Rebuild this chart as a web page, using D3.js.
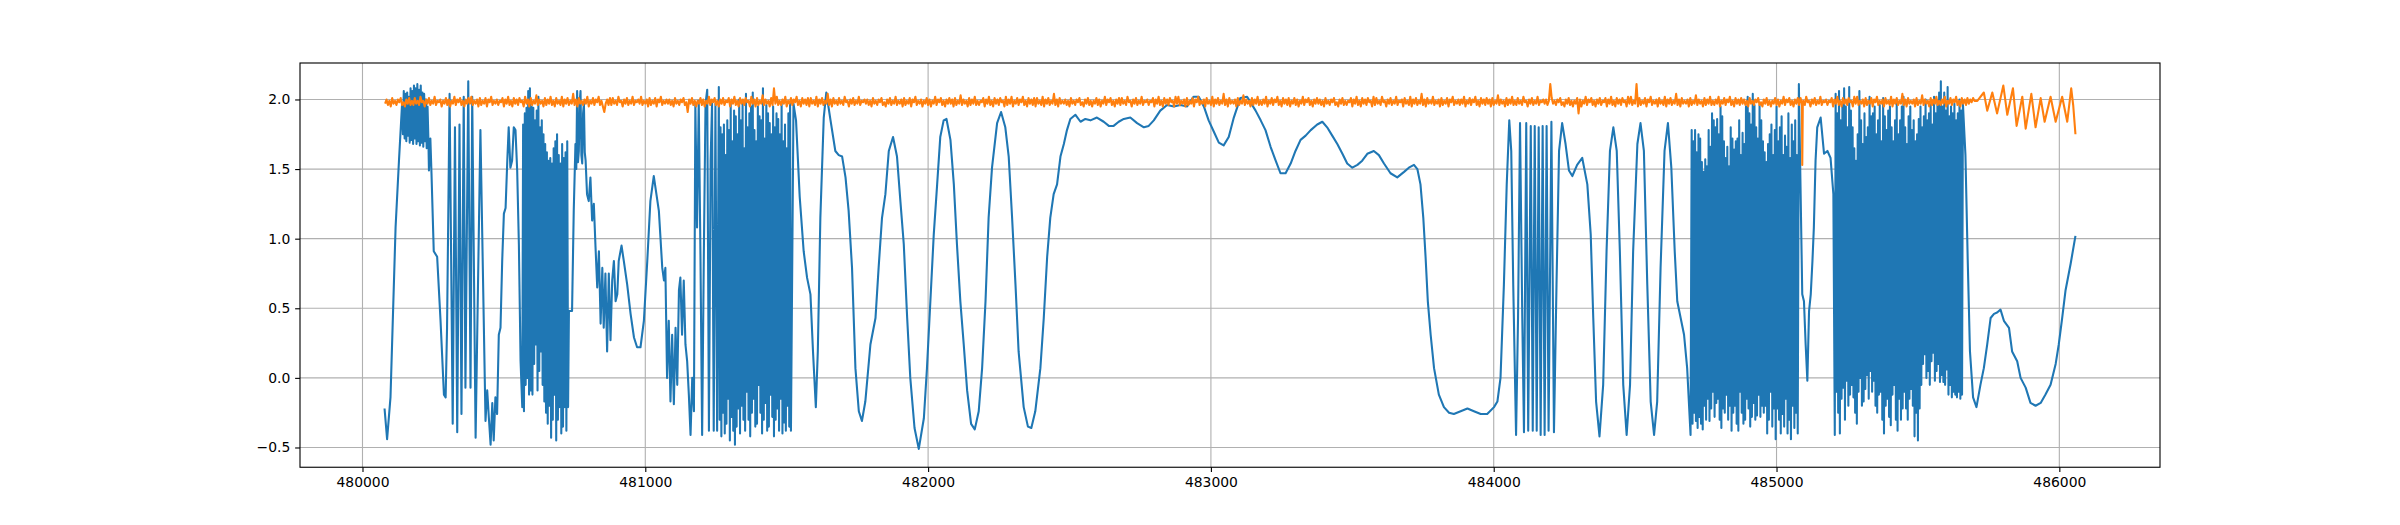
<!DOCTYPE html>
<html>
<head>
<meta charset="utf-8">
<script src="https://cdn.jsdelivr.net/npm/d3@7"></script>
<style>
  body { margin: 0; background: #fff; }
  svg { display: block; }
  .tick text { font-family: "DejaVu Sans", sans-serif; font-size: 13.9px; fill: #000; }
</style>
</head>
<body>
<script>
// data - blue series: slow stretches as [x, y] pairs, fast bursts as values sampled every burstStep
var burstStep = 3;

var blueRise = [[480078,-0.22],[480087,-0.44],[480099,-0.14],[480117,1.08],[480129,1.56],[480140,1.97]];
var crestStart = 480143;
var crestValues = [1.75,2.06,1.72,2.04,1.70,2.05,1.74,2.02,1.69,2.08,1.71,2.06,1.68,2.10,1.72,2.08,
  1.68,2.11,1.70,2.07,1.67,2.10,1.69,2.05,1.66,2.04,1.70,2.00,1.65,1.95,1.72];
var blueFallA = [[480235,1.49],[480240,1.72],[480244,1.47],[480252,0.91],[480264,0.87],[480276,0.41],[480288,-0.12],
  [480294,-0.14],[480299,0.36],[480308,2.04],[480319,-0.33],[480327,1.80],[480335,-0.39],[480343,1.82],[480350,-0.26],
  [480358,2.02],[480364,-0.07],[480374,2.13],[480382,-0.07],[480388,2.02],[480400,-0.43],
  [480417,1.78],[480435,-0.31],[480441,-0.09],[480447,-0.29],[480453,-0.48],[480459,-0.18],[480464,-0.45],
  [480470,-0.14],[480476,-0.26],[480482,0.31],[480488,0.36],[480494,0.84],[480500,1.18],[480506,1.22],[480512,1.56],
  [480517,1.80],[480523,1.51],[480529,1.56],[480535,1.80],[480541,1.78],[480547,1.49],[480553,0.96],[480559,0.12],[480565,-0.21]];
var burstBStart = 480568;
var burstBValues = [1.82,-0.24,1.90,-0.05,1.94,0.00,2.06,-0.12,2.08,-0.09,1.95,-0.12,1.94,0.10,1.85,0.24,1.92,-0.09,2.02,0.05,
  1.80,0.19,1.85,-0.05,1.75,-0.17,1.68,-0.25,1.62,-0.33,1.56,-0.20,1.58,-0.43,1.54,-0.30,1.65,-0.12,1.70,-0.45,
  1.75,-0.30,1.60,-0.21,1.54,-0.40,1.68,-0.35,1.58,-0.21,1.62,-0.38,1.70,-0.21,0.48];
var blueDecay = [[480741,0.48],[480747,1.20],[480753,1.68],[480756,1.50],[480759,2.06],[480762,1.55],[480765,1.63],[480768,1.98],
  [480771,2.06],[480774,1.60],[480777,1.54],[480780,1.90],[480783,1.97],[480786,1.62],
  [480789,1.56],[480794,1.32],[480800,1.27],[480806,1.44],[480812,1.13],[480818,1.25],[480824,0.94],[480830,0.65],
  [480836,0.91],[480842,0.39],[480848,0.79],[480853,0.36],[480859,0.75],[480865,0.19],[480871,0.75],[480877,0.27],
  [480883,0.70],[480889,0.84],[480895,0.55],[480901,0.60],[480906,0.84],[480916,0.95],[480924,0.84],[480936,0.67],
  [480948,0.46],[480960,0.29],[480971,0.22],[480983,0.22],[480995,0.41],[481007,0.84],[481018,1.27],[481030,1.45],
  [481048,1.20],[481060,0.79],[481066,0.70],[481071,0.79],[481077,0.00],[481083,0.41],[481089,-0.17],[481095,0.31],
  [481101,-0.19],[481107,0.36],[481113,-0.05],[481119,0.63],[481124,0.72],[481130,0.31],[481136,0.70],[481142,0.24],
  [481148,0.12],[481154,-0.12],[481160,-0.41],[481166,0.00],[481172,-0.24],
  [481177,1.97],[481183,1.08],[481189,1.99],[481195,0.89],[481201,-0.41],[481207,0.89],[481213,1.97],
  [481219,2.07],[481225,-0.38],[481231,1.56],[481236,1.97],[481242,-0.38],[481248,1.97],[481254,-0.38],[481260,2.09]];
var burstCStart = 481263;
var burstCValues = [-0.30,1.80,-0.42,1.75,-0.25,1.82,-0.40,1.60,-0.33,1.85,-0.15,1.78,-0.45,1.97,-0.28,1.70,-0.38,1.92,-0.48,1.88,
  -0.35,1.75,-0.22,2.00,-0.40,1.85,-0.20,1.97,-0.30,1.65,-0.38,2.04,-0.10,1.80,-0.30,1.90,-0.42,1.95,-0.25,2.05,
  -0.15,1.78,-0.35,1.70,-0.33,1.95,-0.05,1.88,-0.25,1.85,-0.40,2.08,-0.30,1.72,-0.18,1.96,-0.38,1.90,-0.35,1.83,
  -0.12,1.75,-0.28,1.95,-0.42,1.80,-0.30,1.90,-0.22,1.86,-0.38,1.75,-0.15,1.98,-0.40,1.70,-0.32,1.82,-0.38,1.65,
  -0.20,1.90,-0.35,1.97,-0.38];
var blueWaves = [[481524,1.97],[481533,1.85],[481546,1.30],[481560,0.91],[481572,0.72],[481584,0.60],[481593,0.19],[481603,-0.21],
  [481610,0.19],[481619,1.15],[481631,1.87],[481640,2.05],[481655,1.85],[481672,1.63],[481684,1.60],[481696,1.59],
  [481708,1.44],[481719,1.20],[481731,0.79],[481743,0.07],[481755,-0.24],[481766,-0.31],[481778,-0.17],[481796,0.24],
  [481814,0.43],[481825,0.79],[481837,1.15],[481849,1.32],[481861,1.63],[481876,1.73],[481890,1.59],[481902,1.27],
  [481914,0.96],[481926,0.43],[481937,0.00],[481952,-0.36],[481967,-0.51],[481985,-0.29],[481996,0.07],[482008,0.55],
  [482020,1.03],[482032,1.39],[482043,1.73],[482055,1.85],[482065,1.86],[482079,1.71],[482091,1.39],[482102,0.96],
  [482114,0.55],[482126,0.24],[482138,-0.09],[482152,-0.33],[482165,-0.37],[482179,-0.24],[482191,0.07],[482203,0.55],
  [482214,1.15],[482226,1.51],[482244,1.83],[482258,1.91],[482273,1.80],[482285,1.59],[482297,1.15],[482309,0.67],
  [482320,0.19],[482338,-0.21],[482353,-0.35],[482365,-0.36],[482379,-0.24],[482397,0.07],[482409,0.43],[482421,0.87],
  [482432,1.15],[482444,1.32],[482456,1.39],[482468,1.59],[482480,1.68],[482491,1.78],[482503,1.86],[482521,1.89],
  [482539,1.84],[482556,1.86],[482574,1.85],[482597,1.87],[482621,1.84],[482639,1.81],[482656,1.81],[482674,1.84],
  [482692,1.86],[482715,1.87],[482739,1.83],[482763,1.80],[482780,1.81],[482798,1.85],[482821,1.92],[482845,1.96],
  [482869,1.95],[482892,1.96],[482916,1.95],[482939,2.02],[482957,2.02],[482975,1.95],[482992,1.85],[483010,1.77],
  [483028,1.69],[483045,1.67],[483063,1.73],[483081,1.87],[483104,2.01],[483128,2.02],[483158,1.92],[483176,1.85],
  [483193,1.78],[483211,1.66],[483229,1.56],[483246,1.47],[483264,1.47],[483282,1.54],[483299,1.63],[483317,1.71],
  [483335,1.74],[483353,1.78],[483376,1.82],[483394,1.84],[483411,1.80],[483429,1.74],[483447,1.68],[483465,1.61],
  [483482,1.54],[483500,1.51],[483518,1.53],[483535,1.56],[483553,1.61],[483576,1.63],[483594,1.60],[483612,1.54],
  [483635,1.47],[483659,1.44],[483683,1.48],[483700,1.51],[483718,1.53],[483730,1.50],[483741,1.39],[483751,1.15],
  [483759,0.87],[483767,0.55],[483777,0.31],[483789,0.07],[483806,-0.12],[483824,-0.21],[483842,-0.25],[483859,-0.26],
  [483883,-0.24],[483907,-0.22],[483930,-0.24],[483954,-0.26],[483977,-0.26],[484001,-0.21],[484013,-0.17],[484024,0.00],
  [484036,0.67],[484046,1.39],
  [484055,1.85],[484062,1.63],[484069,0.67],[484079,-0.41],[484086,0.43],[484093,1.83],[484101,0.43],
  [484107,-0.39],[484115,1.83],[484122,-0.38],[484131,1.81],[484138,-0.38],[484145,1.81],[484152,-0.38],[484159,1.80],
  [484166,-0.41],[484173,1.81],[484180,-0.41],[484187,1.81],[484194,-0.38],[484204,1.84],[484213,-0.39],
  [484222,0.67],[484231,1.63],[484242,1.83],[484254,1.68],[484266,1.49],[484278,1.45],[484295,1.53],
  [484313,1.58],[484331,1.39],[484343,1.03],[484352,0.43],[484362,-0.17],[484374,-0.42],[484387,-0.05],[484399,0.91],
  [484411,1.63],[484423,1.80],[484435,1.63],[484446,0.91],[484458,-0.05],[484470,-0.41],[484482,-0.05],[484493,0.91],
  [484508,1.68],[484519,1.83],[484531,1.63],[484543,0.67],[484555,-0.17],[484567,-0.41],[484578,-0.17],[484590,0.79],
  [484604,1.63],[484616,1.83],[484628,1.51],[484640,0.91],[484649,0.55],[484661,0.43],[484673,0.31],[484684,0.07],[484696,-0.41]];
var burstEStart = 484700;
var burstEValues = [1.78,-0.33,1.70,-0.25,1.78,-0.31,1.62,-0.36,1.75,-0.28,1.72,-0.33,1.55,-0.37,1.48,-0.20,1.57,-0.30,1.52,-0.15,
  1.78,-0.31,1.66,-0.22,1.90,-0.10,1.85,-0.28,1.80,-0.18,1.86,-0.15,1.75,-0.30,1.95,-0.36,1.88,-0.22,1.70,-0.25,
  1.58,-0.12,1.66,-0.30,1.52,-0.20,1.80,-0.38,1.72,-0.25,1.64,-0.20,1.70,-0.33,1.72,-0.38,1.85,-0.10,1.60,-0.25,
  1.76,-0.33,1.68,-0.30,1.95,-0.15,2.02,-0.22,1.90,-0.35,1.82,-0.28,2.04,-0.18,1.96,-0.30,1.80,-0.27,1.72,-0.12,
  1.96,-0.28,1.85,-0.20,1.70,-0.25,1.62,-0.20,1.55,-0.40,1.68,-0.30,1.75,-0.10,1.82,-0.35,1.60,-0.22,1.78,-0.44,
  1.95,-0.22,1.70,-0.30,1.80,-0.40,1.88,-0.26,1.60,-0.35,1.74,-0.15,1.66,-0.40,1.90,-0.30,1.58,-0.44,1.82,-0.20,
  1.70,-0.36,1.85,-0.25,1.60,-0.40];
var blueGap = [[485079,2.11],[485091,0.60],[485097,0.55],[485103,0.24],[485109,-0.02],[485115,0.48],[485121,0.60],[485127,0.84],
  [485132,1.08],[485138,1.56],[485144,1.80],[485156,1.87],[485168,1.61],[485180,1.63],[485191,1.58],[485201,1.32],[485206,-0.41]];
var burstFStart = 485209;
var burstFValues = [2.04,-0.10,1.90,-0.25,2.06,-0.40,1.85,-0.15,1.97,-0.07,2.08,-0.30,1.95,-0.02,1.80,-0.20,2.09,-0.12,1.92,-0.05,
  1.80,-0.14,1.65,-0.25,1.56,-0.33,1.75,-0.10,2.06,0.00,1.85,-0.20,1.68,-0.17,1.90,-0.08,1.73,0.02,1.80,-0.15,
  2.02,0.05,1.88,-0.10,1.90,-0.02,1.95,-0.20,1.75,-0.25,1.85,-0.12,1.96,-0.10,1.70,-0.30,2.01,-0.40,1.88,-0.20,
  1.78,-0.15,1.92,-0.28,1.95,-0.34,1.80,-0.12,1.70,-0.05,1.85,-0.30,2.00,-0.38,1.75,-0.15,1.85,-0.30,1.95,-0.22,
  2.02,-0.10,1.80,-0.22,1.68,-0.30,1.88,-0.15,1.95,-0.08,1.78,-0.20,1.85,-0.42,1.70,-0.25,1.75,-0.45,1.86,-0.22,
  1.95,-0.05,1.80,0.10,1.88,0.17,2.00,0.00,1.85,0.05,1.90,-0.05,1.97,0.12,1.82,0.18,2.02,-0.02,1.90,0.05,
  1.98,0.10,2.05,-0.03,2.13,0.02,1.95,-0.03,2.05,-0.05,1.92,0.06,2.09,-0.12,1.88,-0.05,1.95,-0.14,1.90,-0.10,
  1.97,-0.12,1.85,-0.14,1.90,-0.10,2.00,-0.15,1.92,-0.12,1.97];
var blueTail = [[485668,1.60],[485676,0.85],[485684,0.19],[485695,-0.14],[485707,-0.21],[485721,-0.05],[485733,0.07],
  [485745,0.24],[485757,0.43],[485769,0.46],[485780,0.47],[485792,0.49],[485804,0.41],[485822,0.36],[485833,0.19],
  [485851,0.12],[485863,0.00],[485881,-0.07],[485898,-0.18],[485916,-0.20],[485934,-0.18],[485951,-0.12],[485969,-0.05],
  [485987,0.10],[485998,0.24],[486010,0.43],[486022,0.63],[486040,0.82],[486057,1.02]];

// orange series: noisy band sampled every 5 from 480080, one dip, and the ringing tail
var orangeStart = 480080;
var orangeStep = 5;
var orangeBand = [
  1.97,2.00,1.96,1.99,1.95,2.01,1.97,1.99,1.96,2.00,1.98,2.01,1.96,1.98,1.95,2.00,1.97,2.01,1.96,1.99,
  1.96,2.01,1.97,1.99,1.96,2.02,1.98,1.99,1.95,2.00,1.97,2.01,1.96,1.99,1.97,2.02,1.96,1.99,1.98,2.00,
  1.95,1.99,1.97,2.01,1.96,2.00,1.95,1.99,1.97,2.02,1.96,2.00,1.98,2.01,1.96,1.99,1.95,2.00,1.97,2.01,
  1.97,2.02,1.96,1.99,1.97,2.00,1.95,2.01,1.96,1.99,1.97,2.01,1.95,2.00,1.98,2.02,1.96,1.99,1.97,2.00,
  1.96,1.99,1.98,2.01,1.95,2.00,1.97,2.02,1.96,1.99,1.95,2.01,1.97,2.00,1.96,2.01,1.98,1.99,1.95,2.02,
  1.97,2.00,1.95,2.01,1.96,1.99,1.97,2.03,1.96,2.00,1.97,1.99,1.95,2.01,1.96,2.00,1.97,2.02,1.96,1.99,
  1.95,2.01,1.97,1.99,1.96,2.02,1.95,2.00,1.97,2.01,1.96,1.99,1.97,2.04,1.96,2.00,1.95,2.01,1.97,1.99,
  1.96,2.00,1.97,2.02,1.95,1.99,1.97,2.01,1.96,2.00,1.98,2.02,1.96,1.99,1.95,1.91,1.97,2.00,1.96,2.01,
  1.96,2.01,1.97,1.99,1.96,2.02,1.98,1.99,1.95,2.00,1.97,2.01,1.96,1.99,1.97,2.02,1.96,1.99,1.98,2.00,
  1.97,2.02,1.96,1.99,1.97,2.00,1.95,2.01,1.96,1.99,1.97,2.01,1.95,2.00,1.98,2.02,1.96,1.99,1.97,2.00,
  1.97,2.00,1.96,1.99,1.95,2.01,1.97,1.99,1.96,2.00,1.98,2.01,1.96,1.98,1.91,2.00,1.97,2.01,1.96,1.99,
  1.95,1.99,1.97,2.01,1.96,2.00,1.95,1.99,1.97,2.02,1.96,2.00,1.98,2.01,1.96,1.99,1.95,2.00,1.97,2.01,
  1.96,1.99,1.98,2.01,1.95,2.00,1.97,2.02,1.96,1.99,1.95,2.01,1.97,2.00,1.96,2.01,1.98,1.99,1.95,2.02,
  1.97,2.00,1.95,2.01,1.96,1.99,1.97,2.03,1.96,2.00,1.97,1.99,1.95,2.01,1.96,2.08,1.97,2.02,1.96,1.99,
  1.96,2.00,1.97,2.02,1.95,1.99,1.97,2.01,1.96,2.00,1.98,2.02,1.96,1.99,1.95,2.01,1.97,2.00,1.96,2.01,
  1.95,2.01,1.97,1.99,1.96,2.02,1.95,2.00,1.97,2.01,1.96,1.99,1.97,2.04,1.96,2.00,1.95,2.01,1.97,1.99,
  1.96,2.01,1.97,1.99,1.96,2.02,1.98,1.99,1.95,2.00,1.97,2.01,1.96,1.99,1.97,2.02,1.96,1.99,1.98,2.00,
  1.97,2.00,1.96,1.99,1.95,2.01,1.97,1.99,1.96,2.00,1.98,2.01,1.96,1.98,1.95,2.00,1.97,2.01,1.96,1.99,
  1.97,2.02,1.96,1.99,1.97,2.00,1.95,2.01,1.96,1.99,1.97,2.01,1.95,2.00,1.98,2.02,1.96,1.99,1.97,2.00,
  1.95,1.99,1.97,2.01,1.96,2.00,1.95,1.99,1.97,2.02,1.96,2.00,1.98,2.01,1.96,1.99,1.95,2.00,1.97,2.01,
  1.97,2.00,1.95,2.01,1.96,1.99,1.97,2.03,1.96,2.00,1.97,1.99,1.95,2.01,1.96,2.00,1.97,2.02,1.96,1.99,
  1.96,1.99,1.98,2.01,1.95,2.00,1.97,2.02,1.96,1.99,1.95,2.01,1.97,2.00,1.96,2.01,1.98,1.99,1.95,2.02,
  1.96,2.00,1.97,2.02,1.95,1.99,1.97,2.01,1.96,2.00,1.98,2.02,1.96,1.99,1.95,2.01,1.97,2.00,1.96,2.01,
  1.95,2.01,1.97,1.99,1.96,2.02,1.95,2.00,1.97,2.01,1.96,1.99,1.97,2.04,1.96,2.00,1.95,2.01,1.97,1.99,
  1.97,2.00,1.96,1.99,1.95,2.01,1.97,1.99,1.96,2.00,1.98,2.01,1.96,1.98,1.95,2.00,1.97,2.01,1.96,1.99,
  1.95,1.99,1.97,2.01,1.96,2.00,1.95,1.99,1.97,2.02,1.96,2.00,1.98,2.01,1.96,1.99,1.95,2.00,1.97,2.01,
  1.96,2.01,1.97,1.99,1.96,2.02,1.98,1.99,1.95,2.00,1.97,2.01,1.96,1.99,1.97,2.02,1.96,1.99,1.98,2.00,
  1.96,1.99,1.98,2.01,1.95,2.00,1.97,2.02,1.96,1.99,1.95,2.01,1.97,2.00,1.96,2.01,1.98,1.99,1.95,2.02,
  1.97,2.02,1.96,1.99,1.97,2.00,1.95,2.01,1.96,1.99,1.97,2.01,1.95,2.00,1.98,2.02,1.96,1.99,1.97,2.00,
  1.95,2.01,1.97,1.99,1.96,2.02,1.95,2.00,1.97,2.01,1.96,1.99,1.97,2.04,1.96,2.00,1.95,2.01,1.97,1.99,
  1.97,2.00,1.95,2.01,1.96,1.99,1.97,2.03,1.96,2.00,1.97,1.99,1.95,2.01,1.96,2.00,1.97,2.02,1.96,1.99,
  1.96,2.00,1.97,2.02,1.95,1.99,1.97,2.01,1.96,2.00,1.98,2.02,1.96,1.99,1.95,2.01,1.97,2.00,1.96,2.01,
  1.95,1.99,1.97,2.01,1.96,2.00,1.95,1.99,1.97,2.02,1.96,2.00,1.98,2.01,1.96,1.99,1.95,2.00,1.97,2.01,
  1.97,2.00,1.96,1.99,1.95,2.01,1.97,1.99,1.96,2.00,1.98,2.01,1.96,1.98,1.95,2.00,1.97,2.01,1.96,1.99,
  1.96,1.99,1.98,2.01,1.95,2.00,1.97,2.02,1.96,1.99,1.95,2.01,1.97,2.00,1.96,2.01,1.98,1.99,1.95,2.02,
  1.96,2.01,1.97,1.99,1.96,2.02,1.98,1.99,1.95,2.00,1.97,2.01,1.96,1.99,1.97,2.02,1.96,1.99,1.98,2.00,
  1.95,2.01,1.97,1.99,1.96,2.02,1.95,2.00,1.97,2.01,1.96,1.99,1.97,2.04,1.96,2.00,1.95,2.01,1.97,1.99,
  1.97,2.02,1.96,1.99,1.97,2.00,1.95,2.01,1.96,1.99,1.97,2.01,1.95,2.00,1.98,2.02,1.96,1.99,1.97,2.00,
  1.96,2.00,1.97,2.02,1.95,1.99,1.97,2.01,1.96,2.00,1.98,2.02,1.96,1.99,1.95,2.01,1.97,2.00,1.96,2.01,
  1.97,2.00,1.95,2.01,1.96,1.99,1.97,2.03,1.96,2.00,1.97,1.99,1.95,2.01,1.96,2.00,1.97,2.02,1.96,1.99,
  1.96,2.01,1.97,1.99,1.96,2.02,1.98,1.99,1.95,2.00,1.97,2.01,1.96,1.99,1.97,2.02,1.96,1.99,1.98,2.00,
  1.97,2.00,1.96,1.99,2.11,2.01,1.97,1.99,1.96,2.00,1.98,2.01,1.96,1.98,1.95,2.00,1.97,2.01,1.96,1.99,
  1.95,1.99,1.97,2.01,1.90,2.00,1.95,1.99,1.97,2.02,1.96,2.00,1.98,2.01,1.96,1.99,1.95,2.00,1.97,2.01,
  1.96,1.99,1.98,2.01,1.95,2.00,1.97,2.02,1.96,1.99,1.95,2.01,1.97,2.00,1.96,2.01,1.98,1.99,1.95,2.02,
  1.97,2.02,1.96,1.99,1.97,2.11,1.95,2.01,1.96,1.99,1.97,2.01,1.95,2.00,1.98,2.02,1.96,1.99,1.97,2.00,
  1.95,2.01,1.97,1.99,1.96,2.02,1.95,2.00,1.97,2.01,1.96,1.99,1.97,2.04,1.96,2.00,1.95,2.01,1.97,1.99,
  1.97,2.00,1.95,2.01,1.96,1.99,1.97,2.03,1.96,2.00,1.97,1.99,1.95,2.01,1.96,2.00,1.97,2.02,1.96,1.99,
  1.96,2.00,1.97,2.02,1.95,1.99,1.97,2.01,1.96,2.00,1.98,2.02,1.96,1.99,1.95,2.01,1.97,2.00,1.96,2.01,
  1.97,2.00,1.96,1.99,1.95,2.01,1.97,1.99,1.96,2.00,1.98,2.01,1.96,1.98,1.95,2.00,1.97,2.01,1.96,1.99,
  1.95,1.99,1.97,2.01,1.96,2.00,1.95,1.99,1.97,2.02,1.96,2.00,1.98,2.01,1.96,1.99,1.95,2.00,1.97,2.01,
  1.96,2.01,1.97,1.99,1.96,2.02,1.98,1.99,1.95,2.00,1.97,2.01,1.96,1.99,1.97,2.02,1.96,1.99,1.98,2.00,
  1.96,1.99,1.98,2.01,1.95,2.00,1.97,2.02,1.96,1.99,1.95,2.01,1.97,2.00,1.96,2.01,1.98,1.99,1.95,2.02,
  1.97,2.02,1.96,1.99,1.97,2.00,1.95,2.01,1.96,1.99,1.97,2.01,1.95,2.00,1.98,2.02,1.96,1.99,1.97,2.00,
  1.95,2.01,1.97,1.99,1.96,2.02,1.95,2.00,1.97,2.01,1.96,1.99,1.97,2.04,1.96,2.00,1.95,2.01,1.97,1.99,
  1.97,2.00,1.95,2.01,1.96,1.99,1.97,2.03,1.96,2.00,1.97,1.99,1.95,2.01,1.96,2.00,1.97,2.02,1.96,1.99,
  1.96,2.00,1.97,2.02,1.95,1.99,1.97,2.01,1.96,2.00,1.98,2.02,1.96,1.99,1.95,2.01,1.97,2.00,1.96,2.01,
  1.97,2.00,1.98,2.01,1.99];
var orangeDip = [[485089,1.98],[485091,1.53],[485093,1.98]];
var orangeTail = [[485710,1.99],[485733,2.05],[485745,1.92],[485763,2.05],[485780,1.90],[485802,2.10],[485816,1.89],
  [485836,2.08],[485849,1.81],[485869,2.02],[485881,1.79],[485901,2.04],[485916,1.80],[485934,2.01],[485948,1.84],
  [485969,2.02],[485987,1.84],[486010,2.02],[486028,1.84],[486042,2.08],[486049,1.96],[486057,1.75]];

var xTicks = [480000, 481000, 482000, 483000, 484000, 485000, 486000];
var yTicks = [-0.5, 0.0, 0.5, 1.0, 1.5, 2.0];

// figure layout (matplotlib default subplot box on a 24 x 5.25 in figure)
var width = 2400;
var height = 525;
var plotLeft = 300, plotRight = 2160, plotTop = 63, plotBottom = 467.25;
var pt = 100 / 72;

var sampled = function(start, step, values) {
  return values.map(function(v, i) { return [start + i * step, v]; });
};

var blue = [].concat(
  blueRise, sampled(crestStart, burstStep, crestValues),
  blueFallA, sampled(burstBStart, burstStep, burstBValues),
  blueDecay, sampled(burstCStart, burstStep, burstCValues),
  blueWaves, sampled(burstEStart, burstStep, burstEValues),
  blueGap, sampled(burstFStart, burstStep, burstFValues),
  blueTail);
var orange = sampled(orangeStart, orangeStep, orangeBand)
  .concat(orangeDip, orangeTail)
  .sort(function(a, b) { return a[0] - b[0]; });

// 5% margins like matplotlib autoscale
var pad = function(ext) {
  var m = (ext[1] - ext[0]) * 0.05;
  return [ext[0] - m, ext[1] + m];
};
var all = blue.concat(orange);
var x = d3.scaleLinear().domain(pad(d3.extent(all, function(d) { return d[0]; }))).range([plotLeft, plotRight]);
var y = d3.scaleLinear().domain(pad(d3.extent(all, function(d) { return d[1]; }))).range([plotBottom, plotTop]);

var svg = d3.select('body').append('svg')
  .attr('width', width)
  .attr('height', height);

// grid
var grid = svg.append('g');
grid.selectAll('line.gx').data(xTicks).enter().append('line')
  .attr('x1', function(d) { return x(d); }).attr('x2', function(d) { return x(d); })
  .attr('y1', plotTop).attr('y2', plotBottom)
  .attr('stroke', '#b0b0b0').attr('stroke-width', 0.8 * pt);
grid.selectAll('line.gy').data(yTicks).enter().append('line')
  .attr('y1', function(d) { return y(d); }).attr('y2', function(d) { return y(d); })
  .attr('x1', plotLeft).attr('x2', plotRight)
  .attr('stroke', '#b0b0b0').attr('stroke-width', 0.8 * pt);

// lines
var line = d3.line()
  .x(function(d) { return x(d[0]); })
  .y(function(d) { return y(d[1]); });

svg.append('path').datum(blue)
  .attr('d', line)
  .attr('fill', 'none')
  .attr('stroke', '#1f77b4')
  .attr('stroke-width', 1.5 * pt)
  .attr('stroke-linejoin', 'round');

svg.append('path').datum(orange)
  .attr('d', line)
  .attr('fill', 'none')
  .attr('stroke', '#ff7f0e')
  .attr('stroke-width', 1.5 * pt)
  .attr('stroke-linejoin', 'round');

// axes
var xAxis = d3.axisBottom(x).tickValues(xTicks).tickFormat(d3.format('d'))
  .tickSize(3.5 * pt).tickPadding(3.5 * pt).tickSizeOuter(0);
var yAxis = d3.axisLeft(y).tickValues(yTicks).tickFormat(d3.format('.1f'))
  .tickSize(3.5 * pt).tickPadding(3.5 * pt).tickSizeOuter(0);

var gx = svg.append('g').attr('transform', 'translate(0,' + plotBottom + ')').call(xAxis);
var gy = svg.append('g').attr('transform', 'translate(' + plotLeft + ',0)').call(yAxis);
[gx, gy].forEach(function(g) {
  g.select('.domain').remove();
  g.selectAll('.tick line').attr('stroke', '#000').attr('stroke-width', 0.8 * pt);
});

// spines
svg.append('rect')
  .attr('x', plotLeft).attr('y', plotTop)
  .attr('width', plotRight - plotLeft).attr('height', plotBottom - plotTop)
  .attr('fill', 'none')
  .attr('stroke', '#000')
  .attr('stroke-width', 0.8 * pt);
</script>
</body>
</html>
